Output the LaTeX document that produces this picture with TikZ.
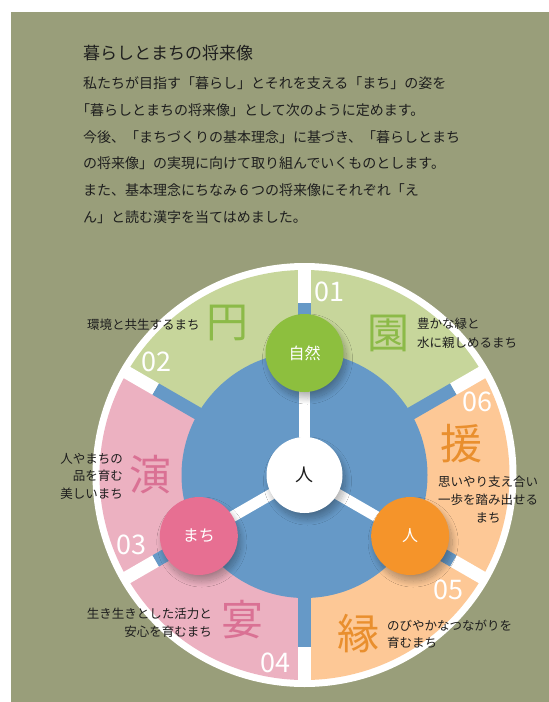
\documentclass[tikz,border=0pt]{standalone}
\usepackage{fontspec}
\setmainfont{Noto Sans CJK JP}
\usetikzlibrary{shadows.blur}
\definecolor{olive}{RGB}{153,158,122}
\definecolor{sgreen}{RGB}{199,214,155}
\definecolor{spink}{RGB}{236,177,193}
\definecolor{sorange}{RGB}{253,200,150}
\definecolor{cblue}{RGB}{102,153,199}
\definecolor{cgreen}{RGB}{141,191,62}
\definecolor{cpink}{RGB}{231,111,146}
\definecolor{corange}{RGB}{245,148,42}
\definecolor{kgreen}{RGB}{140,186,72}
\definecolor{kpink}{RGB}{218,113,148}
\definecolor{korange}{RGB}{233,143,46}
\definecolor{ink}{RGB}{30,30,30}
\begin{document}
\begin{tikzpicture}[x=1pt,y=-1pt,
  circ/.style={circle, minimum size=78pt, inner sep=0pt, text=white,
    font=\fontsize{16}{16}\selectfont,
    blur shadow={shadow xshift=3pt, shadow yshift=-6pt, shadow blur radius=6pt, shadow blur steps=20, shadow opacity=30}},
  spoke/.style={white, line width=11pt},
  para/.style={anchor=west, inner sep=0pt, text=ink, font=\fontsize{14}{14}\selectfont},
  lbl/.style={inner sep=0pt, text=ink, font=\fontsize{12.5}{18.5}\selectfont},
  kanji/.style={inner sep=0pt, font=\fontsize{42}{42}\selectfont},
  num/.style={inner sep=0pt, text=white, font=\fontsize{27}{27}\selectfont}]
\useasboundingbox (0,0) rectangle (549,702);
\fill[olive] (11,12) rectangle (549,702);
\coordinate (O) at (304.5,475);
\fill[white] (O) circle[radius=212pt];
\foreach \a/\c in {30/sgreen,90/sgreen,150/spink,210/spink,270/sorange,330/sorange}
  \fill[\c] (O) -- ++(\a:205pt) arc[start angle=\a, delta angle=60, radius=205pt] -- cycle;
\fill[cblue] (O) circle[radius=123pt];
\foreach \a in {30,90,...,330} {
  \draw[cblue, line width=13pt] ([shift={(\a:118pt)}]O) -- ([shift={(\a:172pt)}]O);
  \draw[white, line width=13pt] ([shift={(\a:172pt)}]O) -- ([shift={(\a:207pt)}]O);
}

% spokes (under the circles)
\coordinate (cS) at ([shift={(90:122pt)}]O);
\coordinate (cM) at ([shift={(210:122pt)}]O);
\coordinate (cH) at ([shift={(330:122pt)}]O);
\draw[spoke] (O) -- (cS);
\draw[spoke] (O) -- (cM);
\draw[spoke] (O) -- (cH);

% centre and three circles
\node[circ, minimum size=76pt, fill=white, text=ink, font=\fontsize{18}{18}\selectfont] (hito) at (O) {人};
\node[circ, fill=cgreen] (shizen) at (cS) {自然};
\node[circ, fill=cpink] (machi) at (cM) {まち};
\node[circ, fill=corange] (hito2) at (cH) {人};

% heading text
\node[para, font=\fontsize{17}{17}\selectfont] (title) at (83,53) {暮らしとまちの将来像};
\node[para] (l1) at (83,83) {私たちが目指す「暮らし」とそれを支える「まち」の姿を};
\node[para] (l2) at (76,110) {「暮らしとまちの将来像」として次のように定めます。};
\node[para] (l3) at (83,137) {今後、「まちづくりの基本理念」に基づき、「暮らしとまち};
\node[para] (l4) at (83,163) {の将来像」の実現に向けて取り組んでいくものとします。};
\node[para] (l5) at (83,190) {また、基本理念にちなみ６つの将来像にそれぞれ「え};
\node[para] (l6) at (83,217) {ん」と読む漢字を当てはめました。};

% sector numbers
\node[num] (n01) at (329,292) {01};
\node[num] (n02) at (156,362) {02};
\node[num] (n03) at (131,545) {03};
\node[num] (n04) at (275,663) {04};
\node[num] (n05) at (448,590) {05};
\node[num] (n06) at (477,402) {06};

% kanji
\node[kanji, text=kgreen] (k1) at (388,333) {園};
\node[kanji, text=kgreen] (k2) at (227,323) {円};
\node[kanji, text=kpink] (k3) at (150,475) {演};
\node[kanji, text=kpink] (k4) at (242,620) {宴};
\node[kanji, text=korange] (k5) at (358,634) {縁};
\node[kanji, text=korange] (k6) at (461,444) {援};

% descriptions
\node[lbl, anchor=west, align=left] (d1) at (417,333) {豊かな緑と\\水に親しめるまち};
\node[lbl, anchor=west] (d2) at (87,325) {環境と共生するまち};
\node[lbl, anchor=east, align=right, font=\fontsize{12.5}{17.5}\selectfont] (d3) at (123,476) {人やまちの\\品を育む\\美しいまち};
\node[lbl, anchor=east, align=right] (d4) at (212,623) {生き生きとした活力と\\安心を育むまち};
\node[lbl, anchor=west, align=left, font=\fontsize{12.5}{17}\selectfont] (d5) at (387,634) {のびやかなつながりを\\育むまち};
\node[lbl, align=center, font=\fontsize{12.5}{18}\selectfont] (d6) at (488,500) {思いやり支え合い\\一歩を踏み出せる\\まち};
\end{tikzpicture}
\end{document}
